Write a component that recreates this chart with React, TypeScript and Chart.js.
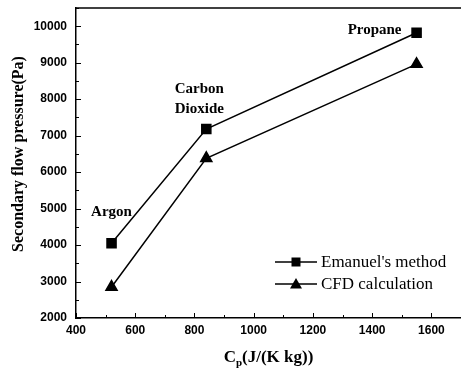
import React, { useEffect, useRef } from 'react';
import { Chart, registerables } from 'chart.js';

Chart.register(...registerables);

const cpValues = [520, 840, 1550];
const emanuelPressure = [4050, 7180, 9820];
const cfdPressure = [2850, 6380, 8960];
const gasNames = ['Argon', 'Carbon\nDioxide', 'Propane'];
const seriesNames = ["Emanuel's method", 'CFD calculation'];
const xTitleMain = 'C';
const xTitleSub = 'p';
const xTitleRest = '(J/(K kg))';
const yTitle = 'Secondary flow pressure(Pa)';

const W = 461;
const H = 369;

const decorPlugin = {
  id: 'decor',
  afterDraw(chart: any) {
    const ctx = chart.ctx as CanvasRenderingContext2D;
    const area = chart.chartArea;
    const xs = chart.scales.x;
    const ys = chart.scales.y;
    ctx.save();
    ctx.strokeStyle = '#000';
    ctx.fillStyle = '#000';
    // top border
    ctx.lineWidth = 1.5;
    ctx.beginPath();
    ctx.moveTo(area.left, area.top);
    ctx.lineTo(area.right, area.top);
    ctx.stroke();
    // inward ticks
    ctx.lineWidth = 1;
    ctx.beginPath();
    for (const t of xs.ticks) {
      const px = Math.round(xs.getPixelForValue(t.value)) + 0.5;
      const len = t.value % 200 === 0 ? 5 : 3;
      ctx.moveTo(px, area.bottom);
      ctx.lineTo(px, area.bottom - len);
    }
    for (const t of ys.ticks) {
      const py = Math.round(ys.getPixelForValue(t.value)) + 0.5;
      const len = t.value % 1000 === 0 ? 5 : 3;
      ctx.moveTo(area.left, py);
      ctx.lineTo(area.left + len, py);
    }
    ctx.stroke();

    // gas annotations (anchored to Emanuel points)
    ctx.font = 'bold 15px "Liberation Serif", "Times New Roman", serif';
    ctx.textAlign = 'center';
    ctx.textBaseline = 'middle';
    const offsets = [
      [0, -31],
      [-7, -40],
      [-42, -3],
    ];
    gasNames.forEach((name, i) => {
      const px = xs.getPixelForValue(cpValues[i]) + offsets[i][0];
      const py = ys.getPixelForValue(emanuelPressure[i]) + offsets[i][1];
      name.split('\n').forEach((line, j) => {
        ctx.fillText(line, px, py + j * 20);
      });
    });

    // legend
    const legX0 = 275;
    const legX1 = 317;
    const legY = [262, 284];
    ctx.lineWidth = 1.5;
    ctx.font = '17px "Liberation Serif", "Times New Roman", serif';
    ctx.textAlign = 'left';
    seriesNames.forEach((name, i) => {
      const y = legY[i];
      ctx.beginPath();
      ctx.moveTo(legX0, y);
      ctx.lineTo(legX1, y);
      ctx.stroke();
      const cx = (legX0 + legX1) / 2;
      ctx.beginPath();
      if (i === 0) {
        ctx.rect(cx - 4.5, y - 4.5, 9, 9);
      } else {
        ctx.moveTo(cx, y - 6);
        ctx.lineTo(cx + 6, y + 4.5);
        ctx.lineTo(cx - 6, y + 4.5);
        ctx.closePath();
      }
      ctx.fill();
      ctx.fillText(name, legX1 + 4, y + 1);
    });

    // x title with subscript
    const bigFont = 'bold 17px "Liberation Serif", "Times New Roman", serif';
    const subFont = 'bold 11px "Liberation Serif", "Times New Roman", serif';
    ctx.font = bigFont;
    const wMain = ctx.measureText(xTitleMain).width;
    const wRest = ctx.measureText(xTitleRest).width;
    ctx.font = subFont;
    const wSub = ctx.measureText(xTitleSub).width;
    const total = wMain + wSub + wRest;
    let tx = (area.left + area.right) / 2 - total / 2;
    const baseY = 362;
    ctx.textBaseline = 'alphabetic';
    ctx.font = bigFont;
    ctx.fillText(xTitleMain, tx, baseY);
    tx += wMain;
    ctx.font = subFont;
    ctx.fillText(xTitleSub, tx, baseY + 4);
    tx += wSub;
    ctx.font = bigFont;
    ctx.fillText(xTitleRest, tx, baseY);

    // y title
    ctx.save();
    ctx.translate(19, 154);
    ctx.rotate(-Math.PI / 2);
    ctx.font = 'bold 16px "Liberation Serif", "Times New Roman", serif';
    ctx.textAlign = 'center';
    ctx.textBaseline = 'middle';
    ctx.fillText(yTitle, 0, 0);
    ctx.restore();

    ctx.restore();
  },
};

export default function App() {
  const ref = useRef<HTMLCanvasElement | null>(null);
  useEffect(() => {
    if (!ref.current) return;
    const tickFont = { family: '"Liberation Sans", Arial, sans-serif', size: 12, weight: 'bold' as const };
    const chart = new Chart(ref.current, {
      type: 'line',
      data: {
        datasets: [
          {
            label: seriesNames[0],
            data: cpValues.map((x, i) => ({ x, y: emanuelPressure[i] })),
            borderColor: '#000',
            backgroundColor: '#000',
            borderWidth: 1.5,
            pointStyle: 'rect',
            pointRadius: 6.4,
            pointHoverRadius: 6.4,
            tension: 0,
          },
          {
            label: seriesNames[1],
            data: cpValues.map((x, i) => ({ x, y: cfdPressure[i] })),
            borderColor: '#000',
            backgroundColor: '#000',
            borderWidth: 1.5,
            pointStyle: 'triangle',
            pointRadius: 6.4,
            pointHoverRadius: 6.4,
            tension: 0,
          },
        ],
      },
      options: {
        responsive: false,
        animation: false,
        devicePixelRatio: 1,
        layout: { autoPadding: false, padding: { top: 8, left: 0, right: 0, bottom: 0 } },
        plugins: { legend: { display: false }, tooltip: { enabled: false } },
        scales: {
          x: {
            type: 'linear',
            min: 400,
            max: 1700,
            grid: { display: false, drawTicks: false },
            border: { display: true, color: '#000', width: 1.5 },
            ticks: {
              stepSize: 100,
              autoSkip: false,
              maxRotation: 0,
              padding: 5,
              color: '#000',
              font: tickFont,
              callback: (v: any) => (Number(v) % 200 === 0 && Number(v) <= 1600 ? String(v) : ''),
            },
            afterFit: (s: any) => {
              s.height = 51;
              s.paddingLeft = 0;
              s.paddingRight = 0;
            },
          },
          y: {
            type: 'linear',
            min: 2000,
            max: 10500,
            grid: { display: false, drawTicks: false },
            border: { display: true, color: '#000', width: 1.5 },
            ticks: {
              stepSize: 500,
              autoSkip: false,
              padding: 9,
              color: '#000',
              font: tickFont,
              callback: (v: any) => (Number(v) % 1000 === 0 ? String(v) : ''),
            },
            afterFit: (s: any) => {
              s.width = 76;
              s.paddingTop = 0;
              s.paddingBottom = 0;
            },
          },
        },
      },
      plugins: [decorPlugin],
    });
    return () => chart.destroy();
  }, []);
  return (
    <div style={{ position: 'fixed', left: 0, top: 0, width: W, height: H, background: '#fff' }}>
      <canvas ref={ref} width={W} height={H} style={{ display: 'block', width: W, height: H }} />
    </div>
  );
}
